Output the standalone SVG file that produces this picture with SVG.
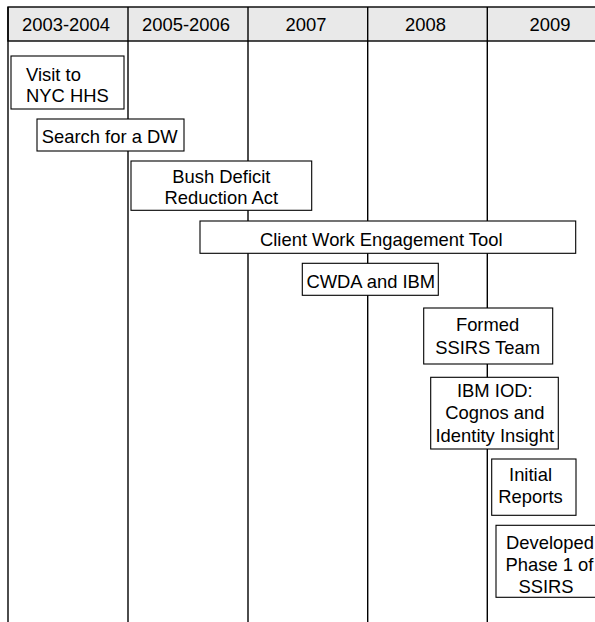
<svg xmlns="http://www.w3.org/2000/svg" width="595" height="622" viewBox="0 0 595 622">
  <style>
    .hdr { fill: #e9e9e9; stroke: #000; stroke-width: 1.4; }
    .grid { stroke: #000; stroke-width: 1.4; fill: none; }
    .box { fill: #fff; stroke: #000; stroke-width: 1.1; }
    text { font-family: "Liberation Sans", Arial, sans-serif; font-size: 18.4px; fill: #000; }
    .c { text-anchor: middle; }
  </style>

  <rect width="595" height="622" fill="#fff"/>

  <!-- year header band -->
  <g id="header">
    <rect class="hdr" x="8" y="7" width="600" height="34"/>
    <text class="c" x="66" y="31">2003-2004</text>
    <text class="c" x="186" y="31">2005-2006</text>
    <text class="c" x="306" y="31">2007</text>
    <text class="c" x="425.5" y="31">2008</text>
    <text class="c" x="550" y="31">2009</text>
  </g>

  <!-- column separators -->
  <g id="connectors">
    <line class="grid" x1="8" y1="7" x2="8" y2="622"/>
    <line class="grid" x1="128" y1="7" x2="128" y2="622"/>
    <line class="grid" x1="248" y1="7" x2="248" y2="622"/>
    <line class="grid" x1="367.7" y1="7" x2="367.7" y2="622"/>
    <line class="grid" x1="487.3" y1="7" x2="487.3" y2="622"/>
  </g>

  <g id="visit">
    <rect class="box" x="11" y="56" width="113" height="53"/>
    <text x="26" y="81">Visit to</text>
    <text x="26" y="101.5">NYC HHS</text>
  </g>

  <g id="search">
    <rect class="box" x="37" y="119" width="147" height="32"/>
    <text x="41.7" y="142.5">Search for a DW</text>
  </g>

  <g id="bush">
    <rect class="box" x="131" y="161" width="180.7" height="49.3"/>
    <text class="c" x="221.3" y="183.3">Bush Deficit</text>
    <text class="c" x="221.3" y="204">Reduction Act</text>
  </g>

  <g id="client">
    <rect class="box" x="200" y="221" width="375.7" height="32.3"/>
    <text class="c" x="381.3" y="245.5">Client Work Engagement Tool</text>
  </g>

  <g id="cwda">
    <rect class="box" x="302.3" y="263.3" width="136" height="32"/>
    <text class="c" x="370.8" y="287.5">CWDA and IBM</text>
  </g>

  <g id="formed">
    <rect class="box" x="423.7" y="308" width="129" height="56"/>
    <text class="c" x="487.6" y="331">Formed</text>
    <text class="c" x="487.6" y="354">SSIRS Team</text>
  </g>

  <g id="iod">
    <rect class="box" x="430.7" y="377.3" width="127.6" height="71.7"/>
    <text class="c" x="494.8" y="397.3">IBM IOD:</text>
    <text class="c" x="494.8" y="419.3">Cognos and</text>
    <text class="c" x="494.8" y="441.5">Identity Insight</text>
  </g>

  <g id="initial">
    <rect class="box" x="491.7" y="459" width="84.3" height="56.3"/>
    <text class="c" x="530.5" y="480.7">Initial</text>
    <text class="c" x="530.5" y="502.7">Reports</text>
  </g>

  <g id="developed">
    <rect class="box" x="496" y="525.3" width="110" height="72"/>
    <text class="c" x="550" y="549">Developed</text>
    <text class="c" x="549.5" y="571">Phase 1 of</text>
    <text class="c" x="546" y="592.7">SSIRS</text>
  </g>
</svg>
